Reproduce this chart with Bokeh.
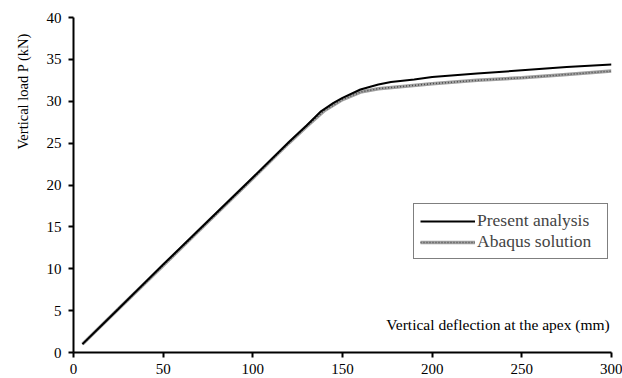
from bokeh.plotting import figure
from bokeh.models import Label, Legend, LegendItem, Range1d, FixedTicker, Title
from bokeh.embed import file_html
from bokeh.resources import INLINE

# Data
present_x = [5, 25, 50, 75, 100, 120, 130, 138, 145, 150, 160, 170, 177, 190, 200, 225, 250, 275, 300]
present_y = [1.0, 5.2, 10.5, 15.7, 20.9, 25.1, 27.1, 28.8, 29.8, 30.4, 31.4, 32.0, 32.3, 32.6, 32.9, 33.3, 33.7, 34.1, 34.4]

abaqus_x = [5, 25, 50, 75, 100, 120, 130, 140, 150, 160, 170, 185, 200, 225, 250, 275, 300]
abaqus_y = [1.0, 5.2, 10.4, 15.6, 20.8, 25.0, 27.0, 28.9, 30.2, 31.1, 31.5, 31.8, 32.1, 32.5, 32.8, 33.2, 33.6]

x_ticks = [0, 50, 100, 150, 200, 250, 300]
y_ticks = [0, 5, 10, 15, 20, 25, 30, 35, 40]

x_title = "Vertical deflection at the apex (mm)"
y_title = "Vertical load  P (kN)"
legend_labels = ["Present analysis", "Abaqus solution"]

FONT = "Liberation Serif"

p = figure(width=622, height=378, output_backend="svg", toolbar_location=None,
           x_range=Range1d(0, 300), y_range=Range1d(0, 40),
           min_border_left=72, min_border_right=11, min_border_top=17, min_border_bottom=26)
p.outline_line_color = None
p.grid.visible = False
p.background_fill_color = "white"

for ax in (p.xaxis[0], p.yaxis[0]):
    ax.axis_line_width = 2
    ax.axis_line_color = "black"
    ax.major_tick_line_width = 2
    ax.major_tick_out = 5
    ax.major_tick_in = 0
    ax.minor_tick_out = 0
    ax.minor_tick_in = 0
    ax.major_label_text_font = FONT
    ax.major_label_text_font_size = "15px"
    ax.major_label_text_color = "black"
p.xaxis[0].major_label_standoff = 6
p.yaxis[0].major_label_standoff = 7

p.xaxis[0].ticker = FixedTicker(ticks=x_ticks)
p.yaxis[0].ticker = FixedTicker(ticks=y_ticks)

# Abaqus solution: gray textured thick line
ab1 = p.line(abaqus_x, abaqus_y, line_color="#a0a0a0", line_width=3.5)
ab2 = p.line(abaqus_x, abaqus_y, line_color="#4a4a4a", line_width=1.5, line_dash="1 2")
# Present analysis: solid black
pr = p.line(present_x, present_y, line_color="black", line_width=2)

legend = Legend(items=[LegendItem(label=legend_labels[0], renderers=[pr]),
                       LegendItem(label=legend_labels[1], renderers=[ab1, ab2])],
                location=(340, 93), border_line_color="black", border_line_width=1.5,
                padding=6, spacing=0, margin=0, glyph_width=55, glyph_height=16,
                label_height=16, label_width=124, label_standoff=2,
                label_text_font=FONT, label_text_font_size="17.5px",
                background_fill_alpha=1.0)
p.add_layout(legend)

p.add_layout(Label(x=299, y=3.3, text=x_title, text_align="right", text_baseline="middle",
                   text_font=FONT, text_font_size="15.5px", text_color="black"))

p.add_layout(Title(text=y_title, align="right", offset=12, standoff=25,
                   text_font=FONT, text_font_size="14.5px", text_font_style="normal",
                   text_color="black"), "left")

open("out.html", "w").write(file_html(p, INLINE))
